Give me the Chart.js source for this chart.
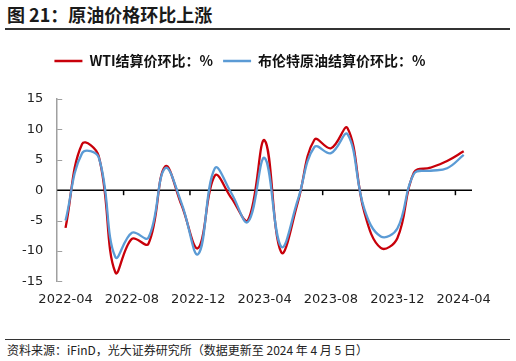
<!DOCTYPE html>
<html>
<head>
<meta charset="utf-8">
<title>原油价格环比上涨</title>
<script src="https://cdn.jsdelivr.net/npm/chart.js@4/dist/chart.umd.min.js"></script>
<style>
body{margin:0;background:#fff;width:516px;height:361px;position:relative;overflow:hidden;font-family:"Noto Sans CJK SC","DejaVu Sans",sans-serif;}
#title{position:absolute;left:7px;top:3px;font-size:18px;font-weight:bold;color:#1a1a1a;line-height:22px;}
#topline{position:absolute;left:5px;top:28px;width:505px;height:0;border-top:2px solid #333;}
#wrap{position:absolute;left:0;top:31px;width:516px;height:286px;}
#botline{position:absolute;left:5px;top:339px;width:505px;height:0;border-top:1.5px solid #333;}
#source{position:absolute;left:7px;top:342px;font-size:12px;color:#222;line-height:16px;}
</style>
</head>
<body>
<div id="title">图 21：原油价格环比上涨</div>
<div id="topline"></div>
<div id="wrap"><canvas id="oilChart"></canvas></div>
<div id="botline"></div>
<div id="source">资料来源：iFinD，光大证券研究所（数据更新至 2024 年 4 月 5 日）</div>

<script>
// months 2022-04 .. 2024-04
var months = ["2022-04","2022-05","2022-06","2022-07","2022-08","2022-09","2022-10","2022-11",
  "2022-12","2023-01","2023-02","2023-03","2023-04","2023-05","2023-06","2023-07",
  "2023-08","2023-09","2023-10","2023-11","2023-12","2024-01","2024-02","2024-03","2024-04"];
// WTI settle price, m/m %
var wti = [-6.2, 7.6, 5.6, -13.5, -8.0, -8.8, 3.9, -2.5, -9.5, 2.4, -1.3, -4.9, 8.2,
  -10.2, -2.0, 8.3, 6.9, 10.2, -3.5, -9.5, -7.9, 2.9, 3.7, 4.8, 6.4];
// Brent settle price, m/m %
var brent = [-5.0, 6.1, 5.4, -11.0, -7.0, -7.8, 3.6, -2.2, -10.5, 3.6, -0.5, -5.2, 5.3,
  -9.3, -1.6, 7.1, 6.1, 9.2, -3.0, -7.6, -6.3, 2.7, 3.2, 3.6, 5.8];
var yTicks = [-15, -10, -5, 0, 5, 10, 15];

// zero line with category ticks + inward y ticks
var axisMarks = {
  id: 'axisMarks',
  beforeDatasetsDraw: function(chart) {
    var ctx = chart.ctx, xs = chart.scales.x, ys = chart.scales.y, area = chart.chartArea;
    var y0 = ys.getPixelForValue(0);
    ctx.save();
    // y ticks, gray, pointing inward
    ctx.strokeStyle = '#a0a0a0';
    ctx.lineWidth = 1;
    yTicks.forEach(function(v) {
      var py = Math.round(ys.getPixelForValue(v)) + 0.5;
      ctx.beginPath();
      ctx.moveTo(area.left, py);
      ctx.lineTo(area.left + 5, py);
      ctx.stroke();
    });
    // zero line
    ctx.strokeStyle = '#000';
    ctx.lineWidth = 1.5;
    ctx.beginPath();
    ctx.moveTo(area.left, y0);
    ctx.lineTo(area.right, y0);
    ctx.stroke();
    // tick marks on category boundary before every 4th month
    for (var i = 4; i < months.length; i += 4) {
      var px = (xs.getPixelForValue(i - 1) + xs.getPixelForValue(i)) / 2;
      ctx.beginPath();
      ctx.moveTo(px, y0);
      ctx.lineTo(px, y0 + 5);
      ctx.stroke();
    }
    ctx.restore();
  }
};

// extra room under the legend
var legendGap = {
  id: 'legendGap',
  beforeInit: function(chart) {
    var fit = chart.legend.fit;
    chart.legend.fit = function() {
      fit.bind(chart.legend)();
      this.height += 21;
    };
  }
};

var ctx = document.getElementById('oilChart').getContext('2d');
new Chart(ctx, {
  type: 'line',
  data: {
    labels: months,
    datasets: [
      {
        label: 'WTI结算价环比：%',
        data: wti,
        borderColor: '#C8000A',
        backgroundColor: '#C8000A',
        borderWidth: 2.3,
        pointRadius: 0,
        tension: 0.4,
        order: 1
      },
      {
        label: '布伦特原油结算价环比：%',
        data: brent,
        borderColor: '#5B9BD5',
        backgroundColor: '#5B9BD5',
        borderWidth: 2.3,
        pointRadius: 0,
        tension: 0.4,
        order: 0
      }
    ]
  },
  options: {
    responsive: true,
    maintainAspectRatio: false,
    animation: false,
    layout: { padding: { left: 8, right: 44, top: 13, bottom: 0 } },
    plugins: {
      legend: {
        position: 'top',
        align: 'center',
        reverse: true,
        labels: {
          boxWidth: 28,
          boxHeight: 2.5,
          padding: 10,
          color: '#111',
          font: { family: '"Noto Sans CJK SC", sans-serif', size: 14, weight: 'bold' },
          generateLabels: function(chart) {
            var items = Chart.defaults.plugins.legend.labels.generateLabels(chart);
            items.forEach(function(it) { it.lineWidth = 0; });
            return items;
          }
        }
      },
      tooltip: { enabled: false }
    },
    scales: {
      x: {
        offset: true,
        grid: { display: false, drawTicks: false },
        border: { display: false },
        ticks: {
          autoSkip: false,
          maxRotation: 0,
          padding: 10,
          color: '#222',
          font: { family: '"DejaVu Sans", sans-serif', size: 13 },
          callback: function(val, idx) { return idx % 4 === 0 ? months[idx] : ''; }
        }
      },
      y: {
        min: -15,
        max: 15,
        grid: { display: false, drawTicks: false },
        border: { display: true, color: '#a0a0a0', width: 1.5 },
        ticks: {
          stepSize: 5,
          padding: 14,
          color: '#222',
          font: { family: '"DejaVu Sans", sans-serif', size: 13 }
        }
      }
    }
  },
  plugins: [axisMarks, legendGap]
});
</script>
</body>
</html>
